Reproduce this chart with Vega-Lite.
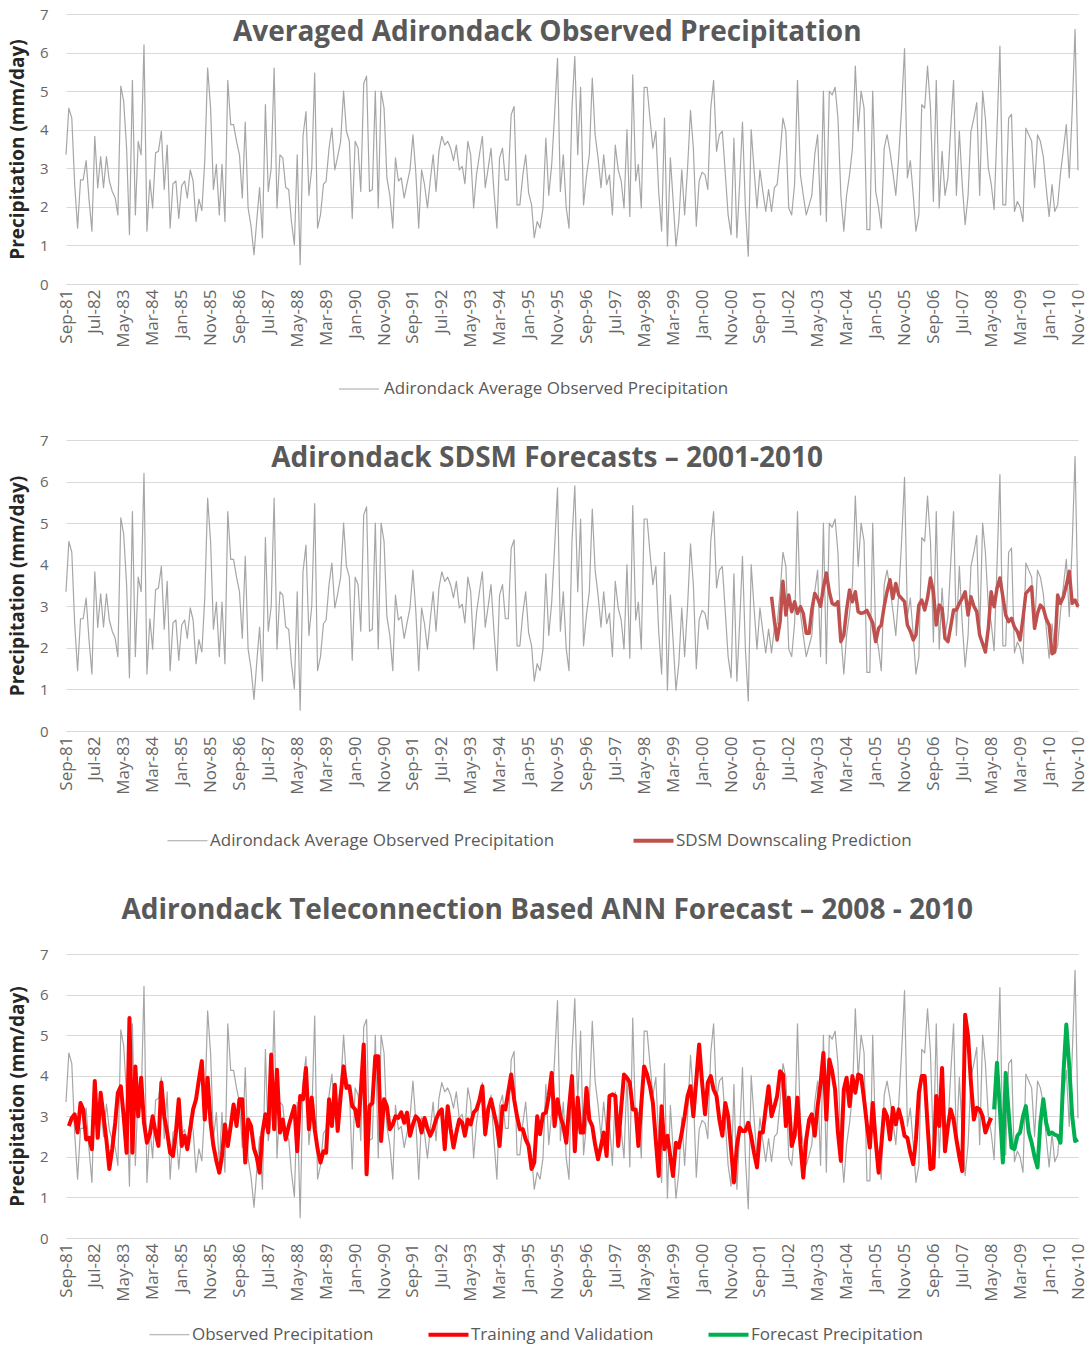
{
"$schema":"https://vega.github.io/schema/vega-lite/v6.json",
"background":"white",
"padding":{"left":8,"top":7,"right":4,"bottom":6},
"spacing":36,
"config":{
 "font":"Open Sans",
 "view":{"stroke":null},
 "axis":{"labelFont":"Open Sans","labelColor":"#666666","labelFontSize":15,"titleFont":"Open Sans","titleFontSize":19,"titleFontWeight":"bold","titleColor":"#262626","gridColor":"#d9d9d9","domainColor":"#d9d9d9","tickColor":"#d9d9d9"},
 "axisX":{"grid":false,"ticks":false,"labelAngle":-90,"labelPadding":5,"labelFontSize":17},
 "axisY":{"domain":false,"ticks":false,"labelPadding":18,"titlePadding":12},
 "title":{"fontSize":28,"font":"Open Sans","fontWeight":"bold","color":"#595959","anchor":"middle","frame":"bounds"},
 "legend":{"orient":"none","direction":"horizontal","labelFont":"Open Sans","labelFontSize":17,"labelColor":"#595959","symbolType":"stroke","symbolSize":1600,"labelLimit":600}
},
"resolve":{"scale":{"color":"independent"},"legend":{"color":"independent"}},
"datasets":{"p":[
{"d":"1981-09","o":3.35},{"d":"1981-10","o":4.56,"t":2.76},{"d":"1981-11","o":4.3,"t":2.96},{"d":"1981-12","o":2.6,"t":3.05},
{"d":"1982-01","o":1.45,"t":2.6},{"d":"1982-02","o":2.7,"t":3.33},{"d":"1982-03","o":2.7,"t":3.17},{"d":"1982-04","o":3.2,"t":2.43},{"d":"1982-05","o":2.2,"t":2.47},{"d":"1982-06","o":1.37,"t":2.19},{"d":"1982-07","o":3.83,"t":3.87},{"d":"1982-08","o":2.49,"t":2.47},{"d":"1982-09","o":3.3,"t":3.58},{"d":"1982-10","o":2.5,"t":3.0},{"d":"1982-11","o":3.3,"t":2.4},{"d":"1982-12","o":2.67,"t":1.7},
{"d":"1983-01","o":2.4,"t":2.2},{"d":"1983-02","o":2.23,"t":2.84},{"d":"1983-03","o":1.79,"t":3.58},{"d":"1983-04","o":5.13,"t":3.74},{"d":"1983-05","o":4.74,"t":3.0},{"d":"1983-06","o":3.52,"t":2.1},{"d":"1983-07","o":1.28,"t":5.42},{"d":"1983-08","o":5.28,"t":2.1},{"d":"1983-09","o":1.79,"t":4.23},{"d":"1983-10","o":3.7,"t":3.0},{"d":"1983-11","o":3.35,"t":3.95},{"d":"1983-12","o":6.2,"t":2.84},
{"d":"1984-01","o":1.37,"t":2.35},{"d":"1984-02","o":2.7,"t":2.56},{"d":"1984-03","o":1.97,"t":3.0},{"d":"1984-04","o":3.4,"t":2.6},{"d":"1984-05","o":3.44,"t":2.27},{"d":"1984-06","o":3.96,"t":3.83},{"d":"1984-07","o":2.45,"t":3.0},{"d":"1984-08","o":3.6,"t":2.6},{"d":"1984-09","o":1.45,"t":2.1},{"d":"1984-10","o":2.6,"t":2.02},{"d":"1984-11","o":2.67,"t":2.6},{"d":"1984-12","o":1.7,"t":3.42},
{"d":"1985-01","o":2.55,"t":2.27},{"d":"1985-02","o":2.67,"t":2.52},{"d":"1985-03","o":2.23,"t":2.19},{"d":"1985-04","o":2.96,"t":2.7},{"d":"1985-05","o":2.67,"t":3.17},{"d":"1985-06","o":1.62,"t":3.42},{"d":"1985-07","o":2.2,"t":3.9},{"d":"1985-08","o":1.9,"t":4.36},{"d":"1985-09","o":3.2,"t":2.92},{"d":"1985-10","o":5.6,"t":3.95},{"d":"1985-11","o":4.56,"t":2.84},{"d":"1985-12","o":2.45,"t":2.27},
{"d":"1986-01","o":3.1,"t":1.9},{"d":"1986-02","o":1.79,"t":1.61},{"d":"1986-03","o":3.1,"t":2.02},{"d":"1986-04","o":1.62,"t":2.8},{"d":"1986-05","o":5.28,"t":2.27},{"d":"1986-06","o":4.13,"t":2.76},{"d":"1986-07","o":4.13,"t":3.29},{"d":"1986-08","o":3.7,"t":2.76},{"d":"1986-09","o":3.35,"t":3.42},{"d":"1986-10","o":2.23,"t":3.42},{"d":"1986-11","o":4.2,"t":1.86},{"d":"1986-12","o":1.97,"t":2.92},
{"d":"1987-01","o":1.5,"t":2.76},{"d":"1987-02","o":0.76,"t":2.2},{"d":"1987-03","o":1.62,"t":2.0},{"d":"1987-04","o":2.5,"t":1.61},{"d":"1987-05","o":1.2,"t":2.6},{"d":"1987-06","o":4.65,"t":3.05},{"d":"1987-07","o":2.4,"t":2.6},{"d":"1987-08","o":3.0,"t":4.52},{"d":"1987-09","o":5.6,"t":2.68},{"d":"1987-10","o":1.97,"t":4.15},{"d":"1987-11","o":3.35,"t":2.6},{"d":"1987-12","o":3.27,"t":2.92},
{"d":"1988-01","o":2.5,"t":2.43},{"d":"1988-02","o":2.45,"t":2.76},{"d":"1988-03","o":1.62,"t":3.0},{"d":"1988-04","o":1.02,"t":3.25},{"d":"1988-05","o":3.35,"t":2.14},{"d":"1988-06","o":0.5,"t":3.5},{"d":"1988-07","o":3.83,"t":3.42},{"d":"1988-08","o":4.47,"t":4.19},{"d":"1988-09","o":2.3,"t":2.68},{"d":"1988-10","o":3.0,"t":3.46},{"d":"1988-11","o":5.47,"t":2.68},{"d":"1988-12","o":1.45,"t":2.2},
{"d":"1989-01","o":1.79,"t":1.86},{"d":"1989-02","o":2.58,"t":2.14},{"d":"1989-03","o":2.67,"t":2.1},{"d":"1989-04","o":3.52,"t":3.42},{"d":"1989-05","o":4.04,"t":2.76},{"d":"1989-06","o":2.96,"t":3.78},{"d":"1989-07","o":3.3,"t":2.64},{"d":"1989-08","o":3.7,"t":3.5},{"d":"1989-09","o":5.0,"t":4.23},{"d":"1989-10","o":3.96,"t":3.7},{"d":"1989-11","o":3.7,"t":3.74},{"d":"1989-12","o":1.7,"t":3.25},
{"d":"1990-01","o":3.7,"t":3.17},{"d":"1990-02","o":3.52,"t":2.76},{"d":"1990-03","o":2.4,"t":3.6},{"d":"1990-04","o":5.2,"t":4.77},{"d":"1990-05","o":5.39,"t":1.57},{"d":"1990-06","o":2.4,"t":3.25},{"d":"1990-07","o":2.45,"t":3.33},{"d":"1990-08","o":5.0,"t":4.48},{"d":"1990-09","o":1.97,"t":4.48},{"d":"1990-10","o":5.0,"t":2.39},{"d":"1990-11","o":4.56,"t":3.42},{"d":"1990-12","o":2.75,"t":3.25},
{"d":"1991-01","o":2.3,"t":2.68},{"d":"1991-02","o":1.45,"t":2.8},{"d":"1991-03","o":3.27,"t":3.0},{"d":"1991-04","o":2.67,"t":2.96},{"d":"1991-05","o":2.75,"t":3.1},{"d":"1991-06","o":2.23,"t":2.84},{"d":"1991-07","o":2.6,"t":3.09},{"d":"1991-08","o":2.96,"t":2.52},{"d":"1991-09","o":3.87,"t":2.8},{"d":"1991-10","o":2.9,"t":3.0},{"d":"1991-11","o":1.45,"t":2.92},{"d":"1991-12","o":2.96,"t":2.6},
{"d":"1992-01","o":2.58,"t":2.96},{"d":"1992-02","o":1.97,"t":2.7},{"d":"1992-03","o":2.67,"t":2.52},{"d":"1992-04","o":3.35,"t":2.68},{"d":"1992-05","o":2.4,"t":2.92},{"d":"1992-06","o":3.44,"t":3.09},{"d":"1992-07","o":3.83,"t":3.17},{"d":"1992-08","o":3.6,"t":2.19},{"d":"1992-09","o":3.7,"t":3.25},{"d":"1992-10","o":3.52,"t":2.7},{"d":"1992-11","o":3.2,"t":2.23},{"d":"1992-12","o":3.6,"t":2.6},
{"d":"1993-01","o":2.96,"t":2.92},{"d":"1993-02","o":3.05,"t":2.84},{"d":"1993-03","o":2.6,"t":2.52},{"d":"1993-04","o":3.7,"t":2.92},{"d":"1993-05","o":3.35,"t":2.8},{"d":"1993-06","o":1.97,"t":3.09},{"d":"1993-07","o":2.83,"t":3.17},{"d":"1993-08","o":3.35,"t":3.4},{"d":"1993-09","o":3.83,"t":3.74},{"d":"1993-10","o":2.5,"t":2.56},{"d":"1993-11","o":3.0,"t":3.17},{"d":"1993-12","o":3.52,"t":3.42},
{"d":"1994-01","o":2.4,"t":3.09},{"d":"1994-02","o":1.45,"t":2.76},{"d":"1994-03","o":3.27,"t":2.27},{"d":"1994-04","o":3.52,"t":3.25},{"d":"1994-05","o":2.7,"t":3.17},{"d":"1994-06","o":2.7,"t":3.6},{"d":"1994-07","o":4.39,"t":4.03},{"d":"1994-08","o":4.6,"t":3.42},{"d":"1994-09","o":2.05,"t":3.0},{"d":"1994-10","o":2.05,"t":2.68},{"d":"1994-11","o":2.83,"t":2.68},{"d":"1994-12","o":3.35,"t":2.43},
{"d":"1995-01","o":2.36,"t":2.27},{"d":"1995-02","o":2.05,"t":1.7},{"d":"1995-03","o":1.2,"t":1.86},{"d":"1995-04","o":1.62,"t":3.0},{"d":"1995-05","o":1.45,"t":2.56},{"d":"1995-06","o":1.97,"t":3.05},{"d":"1995-07","o":3.78,"t":3.09},{"d":"1995-08","o":2.3,"t":3.5},{"d":"1995-09","o":3.1,"t":4.07},{"d":"1995-10","o":4.39,"t":2.76},{"d":"1995-11","o":5.85,"t":3.42},{"d":"1995-12","o":2.4,"t":3.0},
{"d":"1996-01","o":3.35,"t":2.76},{"d":"1996-02","o":1.97,"t":2.35},{"d":"1996-03","o":1.45,"t":3.2},{"d":"1996-04","o":4.56,"t":3.99},{"d":"1996-05","o":5.9,"t":2.14},{"d":"1996-06","o":3.35,"t":3.46},{"d":"1996-07","o":5.1,"t":2.6},{"d":"1996-08","o":2.05,"t":2.6},{"d":"1996-09","o":2.8,"t":3.7},{"d":"1996-10","o":3.35,"t":2.92},{"d":"1996-11","o":5.34,"t":2.76},{"d":"1996-12","o":3.87,"t":2.3},
{"d":"1997-01","o":3.27,"t":1.94},{"d":"1997-02","o":2.5,"t":2.27},{"d":"1997-03","o":3.35,"t":2.6},{"d":"1997-04","o":2.58,"t":2.02},{"d":"1997-05","o":2.83,"t":3.5},{"d":"1997-06","o":1.79,"t":3.54},{"d":"1997-07","o":3.6,"t":3.5},{"d":"1997-08","o":2.96,"t":2.27},{"d":"1997-09","o":2.67,"t":3.2},{"d":"1997-10","o":1.97,"t":4.03},{"d":"1997-11","o":4.0,"t":3.95},{"d":"1997-12","o":1.75,"t":3.83},
{"d":"1998-01","o":5.42,"t":3.17},{"d":"1998-02","o":2.67,"t":3.17},{"d":"1998-03","o":3.1,"t":2.27},{"d":"1998-04","o":1.97,"t":3.3},{"d":"1998-05","o":5.1,"t":4.23},{"d":"1998-06","o":5.1,"t":4.03},{"d":"1998-07","o":4.3,"t":3.74},{"d":"1998-08","o":3.52,"t":3.33},{"d":"1998-09","o":3.96,"t":2.4},{"d":"1998-10","o":2.4,"t":1.53},{"d":"1998-11","o":1.37,"t":3.25},{"d":"1998-12","o":4.3,"t":2.19},
{"d":"1999-01","o":0.98,"t":2.52},{"d":"1999-02","o":3.27,"t":2.0},{"d":"1999-03","o":2.2,"t":1.53},{"d":"1999-04","o":0.98,"t":2.35},{"d":"1999-05","o":1.62,"t":2.23},{"d":"1999-06","o":2.96,"t":2.6},{"d":"1999-07","o":1.79,"t":3.0},{"d":"1999-08","o":3.0,"t":3.5},{"d":"1999-09","o":4.5,"t":3.74},{"d":"1999-10","o":3.52,"t":3.0},{"d":"1999-11","o":1.5,"t":3.9},{"d":"1999-12","o":2.67,"t":4.77},
{"d":"2000-01","o":2.9,"t":3.83},{"d":"2000-02","o":2.83,"t":3.05},{"d":"2000-03","o":2.45,"t":3.83},{"d":"2000-04","o":4.56,"t":3.99},{"d":"2000-05","o":5.28,"t":3.66},{"d":"2000-06","o":3.44,"t":3.5},{"d":"2000-07","o":3.87,"t":2.92},{"d":"2000-08","o":3.96,"t":2.52},{"d":"2000-09","o":2.87,"t":3.33},{"d":"2000-10","o":1.79,"t":3.0},{"d":"2000-11","o":1.28,"t":2.2},{"d":"2000-12","o":3.78,"t":1.37},
{"d":"2001-01","o":1.2,"t":2.27},{"d":"2001-02","o":2.67,"t":2.72},{"d":"2001-03","o":4.2,"t":2.64},{"d":"2001-04","o":1.97,"t":2.64},{"d":"2001-05","o":0.72,"t":2.84},{"d":"2001-06","o":4.0,"t":2.5},{"d":"2001-07","o":2.96,"t":2.1},{"d":"2001-08","o":1.97,"t":1.74},{"d":"2001-09","o":2.96,"t":2.6},{"d":"2001-10","o":2.4,"t":2.6},{"d":"2001-11","o":1.88,"t":3.2},{"d":"2001-12","o":2.45,"t":3.74},
{"d":"2002-01","o":1.88,"s":3.23,"t":3.0},{"d":"2002-02","o":2.5,"s":2.63,"t":3.25},{"d":"2002-03","o":2.58,"s":2.19,"t":3.5},{"d":"2002-04","o":3.35,"s":2.63,"t":4.11},{"d":"2002-05","o":4.3,"s":3.6,"t":4.03},{"d":"2002-06","o":3.96,"s":2.79,"t":2.76},{"d":"2002-07","o":1.97,"s":3.27,"t":3.46},{"d":"2002-08","o":1.79,"s":2.87,"t":2.27},{"d":"2002-09","o":2.6,"s":3.11,"t":2.52},{"d":"2002-10","o":5.28,"s":2.83,"t":3.46},{"d":"2002-11","o":2.83,"s":2.99,"t":2.3},{"d":"2002-12","o":2.3,"s":2.83,"t":1.49},
{"d":"2003-01","o":1.79,"s":2.35,"t":2.43},{"d":"2003-02","o":2.05,"s":2.35,"t":2.92},{"d":"2003-03","o":2.3,"s":2.91,"t":3.05},{"d":"2003-04","o":3.35,"s":3.31,"t":2.52},{"d":"2003-05","o":3.87,"s":3.19,"t":3.25},{"d":"2003-06","o":1.79,"s":3.0,"t":3.8},{"d":"2003-07","o":5.0,"s":3.45,"t":4.56},{"d":"2003-08","o":1.62,"s":3.8,"t":2.92},{"d":"2003-09","o":5.0,"s":3.35,"t":4.4},{"d":"2003-10","o":4.9,"s":3.07,"t":4.11},{"d":"2003-11","o":5.1,"s":3.03,"t":3.66},{"d":"2003-12","o":4.3,"s":3.11,"t":2.6},
{"d":"2004-01","o":2.3,"s":2.15,"t":1.9},{"d":"2004-02","o":1.37,"s":2.31,"t":3.66},{"d":"2004-03","o":2.3,"s":2.91,"t":3.95},{"d":"2004-04","o":2.83,"s":3.39,"t":3.25},{"d":"2004-05","o":3.5,"s":3.11,"t":3.99},{"d":"2004-06","o":5.65,"s":3.35,"t":3.58},{"d":"2004-07","o":3.96,"s":2.87,"t":4.03},{"d":"2004-08","o":5.0,"s":2.83,"t":3.99},{"d":"2004-09","o":4.56,"s":2.85,"t":3.42},{"d":"2004-10","o":1.41,"s":2.9,"t":2.8},{"d":"2004-11","o":1.41,"s":2.75,"t":2.23},{"d":"2004-12","o":5.0,"s":2.6,"t":3.33},
{"d":"2005-01","o":2.4,"s":2.15,"t":2.4},{"d":"2005-02","o":1.97,"s":2.47,"t":1.61},{"d":"2005-03","o":1.45,"s":2.55,"t":2.27},{"d":"2005-04","o":3.52,"s":3.0,"t":3.17},{"d":"2005-05","o":3.87,"s":3.35,"t":3.0},{"d":"2005-06","o":3.44,"s":3.64,"t":2.43},{"d":"2005-07","o":2.9,"s":3.19,"t":3.21},{"d":"2005-08","o":2.3,"s":3.55,"t":2.8},{"d":"2005-09","o":3.3,"s":3.27,"t":3.17},{"d":"2005-10","o":4.56,"s":3.19,"t":2.9},{"d":"2005-11","o":6.1,"s":3.11,"t":2.52},{"d":"2005-12","o":2.75,"s":2.55,"t":2.47},
{"d":"2006-01","o":3.2,"s":2.4,"t":2.1},{"d":"2006-02","o":2.3,"s":2.19,"t":1.82},{"d":"2006-03","o":1.37,"s":2.31,"t":2.43},{"d":"2006-04","o":1.79,"s":3.03,"t":3.58},{"d":"2006-05","o":4.65,"s":3.15,"t":3.99},{"d":"2006-06","o":4.56,"s":2.91,"t":3.99},{"d":"2006-07","o":5.65,"s":3.2,"t":2.8},{"d":"2006-08","o":4.56,"s":3.68,"t":1.7},{"d":"2006-09","o":2.14,"s":3.35,"t":1.74},{"d":"2006-10","o":5.28,"s":2.55,"t":3.5},{"d":"2006-11","o":1.97,"s":3.03,"t":2.76},{"d":"2006-12","o":3.44,"s":2.95,"t":4.19},
{"d":"2007-01","o":2.3,"s":2.23,"t":2.14},{"d":"2007-02","o":2.75,"s":2.15,"t":2.76},{"d":"2007-03","o":4.0,"s":2.5,"t":3.17},{"d":"2007-04","o":5.28,"s":2.91,"t":2.92},{"d":"2007-05","o":2.3,"s":2.91,"t":2.43},{"d":"2007-06","o":3.96,"s":3.07,"t":2.0},{"d":"2007-07","o":2.6,"s":3.19,"t":1.65},{"d":"2007-08","o":1.54,"s":3.35,"t":5.5},{"d":"2007-09","o":2.3,"s":2.79,"t":4.97},{"d":"2007-10","o":3.96,"s":3.23,"t":3.83},{"d":"2007-11","o":4.3,"s":3.0,"t":2.92},{"d":"2007-12","o":4.7,"s":2.87,"t":3.21},
{"d":"2008-01","o":2.3,"s":2.31,"t":3.17},{"d":"2008-02","o":5.0,"s":2.1,"t":3.0},{"d":"2008-03","o":4.3,"s":1.9,"t":2.6},{"d":"2008-04","o":3.0,"s":2.47,"t":2.8},{"d":"2008-05","o":2.6,"s":3.35,"t":2.96},{"d":"2008-06","o":1.93,"s":2.99,"f":3.17},{"d":"2008-07","o":3.96,"s":3.43,"f":4.32},{"d":"2008-08","o":6.17,"s":3.68,"f":3.17},{"d":"2008-09","o":2.05,"s":3.23,"f":1.86},{"d":"2008-10","o":2.05,"s":2.79,"f":4.07},{"d":"2008-11","o":4.3,"s":2.63,"f":3.09},{"d":"2008-12","o":4.4,"s":2.71,"f":2.23},
{"d":"2009-01","o":1.88,"s":2.5,"f":2.19},{"d":"2009-02","o":2.14,"s":2.39,"f":2.52},{"d":"2009-03","o":2.0,"s":2.19,"f":2.6},{"d":"2009-04","o":1.62,"s":2.71,"f":3.0},{"d":"2009-05","o":4.04,"s":3.31,"f":3.25},{"d":"2009-06","o":3.87,"s":3.39,"f":2.6},{"d":"2009-07","o":3.7,"s":3.47,"f":2.35},{"d":"2009-08","o":2.5,"s":2.47,"f":2.0},{"d":"2009-09","o":3.87,"s":2.83,"f":1.74},{"d":"2009-10","o":3.7,"s":3.03,"f":2.84},{"d":"2009-11","o":3.3,"s":2.95,"f":3.42},{"d":"2009-12","o":2.5,"s":2.7,"f":2.84},
{"d":"2010-01","o":1.75,"s":2.55,"f":2.56},{"d":"2010-02","o":2.58,"s":1.86,"f":2.6},{"d":"2010-03","o":1.88,"s":1.9,"f":2.55},{"d":"2010-04","o":2.05,"s":3.27,"f":2.52},{"d":"2010-05","o":2.87,"s":3.07,"f":2.35},{"d":"2010-06","o":3.5,"s":3.23,"f":4.07},{"d":"2010-07","o":4.13,"s":3.5,"f":5.26},{"d":"2010-08","o":2.75,"s":3.84,"f":4.23},{"d":"2010-09","o":4.5,"s":3.07,"f":3.0},{"d":"2010-10","o":6.6,"s":3.15,"f":2.39},{"d":"2010-11","o":2.95,"s":2.99,"f":2.43}
]},
"vconcat":[
{
 "data":{"name":"p"},
 "width":1012,"height":270,
 "title":{"text":"Averaged  Adirondack  Observed  Precipitation","offset":-40},
 "mark":{"type":"line","strokeWidth":1.2,"strokeJoin":"round"},
 "encoding":{
  "x":{"field":"d","type":"temporal","title":null,"scale":{"type":"utc","nice":false,"domain":[{"year":1981,"month":9,"date":1,"utc":true},{"year":2010,"month":11,"date":1,"utc":true}]},"axis":{"format":"%b-%y","values":[{"year":1981,"month":9,"date":1,"utc":true},{"year":1982,"month":7,"date":1,"utc":true},{"year":1983,"month":5,"date":1,"utc":true},{"year":1984,"month":3,"date":1,"utc":true},{"year":1985,"month":1,"date":1,"utc":true},{"year":1985,"month":11,"date":1,"utc":true},{"year":1986,"month":9,"date":1,"utc":true},{"year":1987,"month":7,"date":1,"utc":true},{"year":1988,"month":5,"date":1,"utc":true},{"year":1989,"month":3,"date":1,"utc":true},{"year":1990,"month":1,"date":1,"utc":true},{"year":1990,"month":11,"date":1,"utc":true},{"year":1991,"month":9,"date":1,"utc":true},{"year":1992,"month":7,"date":1,"utc":true},{"year":1993,"month":5,"date":1,"utc":true},{"year":1994,"month":3,"date":1,"utc":true},{"year":1995,"month":1,"date":1,"utc":true},{"year":1995,"month":11,"date":1,"utc":true},{"year":1996,"month":9,"date":1,"utc":true},{"year":1997,"month":7,"date":1,"utc":true},{"year":1998,"month":5,"date":1,"utc":true},{"year":1999,"month":3,"date":1,"utc":true},{"year":2000,"month":1,"date":1,"utc":true},{"year":2000,"month":11,"date":1,"utc":true},{"year":2001,"month":9,"date":1,"utc":true},{"year":2002,"month":7,"date":1,"utc":true},{"year":2003,"month":5,"date":1,"utc":true},{"year":2004,"month":3,"date":1,"utc":true},{"year":2005,"month":1,"date":1,"utc":true},{"year":2005,"month":11,"date":1,"utc":true},{"year":2006,"month":9,"date":1,"utc":true},{"year":2007,"month":7,"date":1,"utc":true},{"year":2008,"month":5,"date":1,"utc":true},{"year":2009,"month":3,"date":1,"utc":true},{"year":2010,"month":1,"date":1,"utc":true},{"year":2010,"month":11,"date":1,"utc":true}]}},
  "y":{"field":"o","type":"quantitative","title":"Precipitation (mm/day)","scale":{"domain":[0,7],"nice":false},"axis":{"values":[0,1,2,3,4,5,6,7]}},
  "color":{"datum":"Adirondack Average Observed Precipitation","scale":{"domain":["Adirondack Average Observed Precipitation"],"range":["#a6a6a6"]},"legend":{"title":null,"symbolStrokeWidth":1.2,"legendX":272,"legendY":354}}
 }
},
{
 "data":{"name":"p"},
 "width":1012,"height":291,
 "title":{"text":"Adirondack  SDSM  Forecasts – 2001-2010","offset":-40},
 "encoding":{
  "x":{"field":"d","type":"temporal","title":null,"scale":{"type":"utc","nice":false,"domain":[{"year":1981,"month":9,"date":1,"utc":true},{"year":2010,"month":11,"date":1,"utc":true}]},"axis":{"format":"%b-%y","values":[{"year":1981,"month":9,"date":1,"utc":true},{"year":1982,"month":7,"date":1,"utc":true},{"year":1983,"month":5,"date":1,"utc":true},{"year":1984,"month":3,"date":1,"utc":true},{"year":1985,"month":1,"date":1,"utc":true},{"year":1985,"month":11,"date":1,"utc":true},{"year":1986,"month":9,"date":1,"utc":true},{"year":1987,"month":7,"date":1,"utc":true},{"year":1988,"month":5,"date":1,"utc":true},{"year":1989,"month":3,"date":1,"utc":true},{"year":1990,"month":1,"date":1,"utc":true},{"year":1990,"month":11,"date":1,"utc":true},{"year":1991,"month":9,"date":1,"utc":true},{"year":1992,"month":7,"date":1,"utc":true},{"year":1993,"month":5,"date":1,"utc":true},{"year":1994,"month":3,"date":1,"utc":true},{"year":1995,"month":1,"date":1,"utc":true},{"year":1995,"month":11,"date":1,"utc":true},{"year":1996,"month":9,"date":1,"utc":true},{"year":1997,"month":7,"date":1,"utc":true},{"year":1998,"month":5,"date":1,"utc":true},{"year":1999,"month":3,"date":1,"utc":true},{"year":2000,"month":1,"date":1,"utc":true},{"year":2000,"month":11,"date":1,"utc":true},{"year":2001,"month":9,"date":1,"utc":true},{"year":2002,"month":7,"date":1,"utc":true},{"year":2003,"month":5,"date":1,"utc":true},{"year":2004,"month":3,"date":1,"utc":true},{"year":2005,"month":1,"date":1,"utc":true},{"year":2005,"month":11,"date":1,"utc":true},{"year":2006,"month":9,"date":1,"utc":true},{"year":2007,"month":7,"date":1,"utc":true},{"year":2008,"month":5,"date":1,"utc":true},{"year":2009,"month":3,"date":1,"utc":true},{"year":2010,"month":1,"date":1,"utc":true},{"year":2010,"month":11,"date":1,"utc":true}]}}
 },
 "layer":[
  {"mark":{"type":"line","strokeWidth":1.2,"strokeJoin":"round"},
   "encoding":{"y":{"field":"o","type":"quantitative","title":"Precipitation (mm/day)","scale":{"domain":[0,7],"nice":false},"axis":{"values":[0,1,2,3,4,5,6,7]}},
    "color":{"datum":"Adirondack Average Observed Precipitation","scale":{"domain":["Adirondack Average Observed Precipitation","SDSM Downscaling Prediction"],"range":["#a6a6a6","#c0504d"]},"legend":{"title":null,"columnPadding":70,"labelOffset":14,"padding":12,"legendX":101,"legendY":380,"symbolStrokeWidth":{"expr":"datum.value == 'SDSM Downscaling Prediction' ? 4 : 1.2"}}}}},
  {"transform":[{"filter":"datum.s != null"}],
   "mark":{"type":"line","strokeWidth":3.5,"strokeJoin":"round"},
   "encoding":{"y":{"field":"s","type":"quantitative"},"color":{"datum":"SDSM Downscaling Prediction"}}}
 ]
},
{
 "data":{"name":"p"},
 "width":1012,"height":284,
 "title":{"text":"Adirondack  Teleconnection  Based  ANN  Forecast – 2008 - 2010","offset":22},
 "encoding":{
  "x":{"field":"d","type":"temporal","title":null,"scale":{"type":"utc","nice":false,"domain":[{"year":1981,"month":9,"date":1,"utc":true},{"year":2010,"month":11,"date":1,"utc":true}]},"axis":{"format":"%b-%y","values":[{"year":1981,"month":9,"date":1,"utc":true},{"year":1982,"month":7,"date":1,"utc":true},{"year":1983,"month":5,"date":1,"utc":true},{"year":1984,"month":3,"date":1,"utc":true},{"year":1985,"month":1,"date":1,"utc":true},{"year":1985,"month":11,"date":1,"utc":true},{"year":1986,"month":9,"date":1,"utc":true},{"year":1987,"month":7,"date":1,"utc":true},{"year":1988,"month":5,"date":1,"utc":true},{"year":1989,"month":3,"date":1,"utc":true},{"year":1990,"month":1,"date":1,"utc":true},{"year":1990,"month":11,"date":1,"utc":true},{"year":1991,"month":9,"date":1,"utc":true},{"year":1992,"month":7,"date":1,"utc":true},{"year":1993,"month":5,"date":1,"utc":true},{"year":1994,"month":3,"date":1,"utc":true},{"year":1995,"month":1,"date":1,"utc":true},{"year":1995,"month":11,"date":1,"utc":true},{"year":1996,"month":9,"date":1,"utc":true},{"year":1997,"month":7,"date":1,"utc":true},{"year":1998,"month":5,"date":1,"utc":true},{"year":1999,"month":3,"date":1,"utc":true},{"year":2000,"month":1,"date":1,"utc":true},{"year":2000,"month":11,"date":1,"utc":true},{"year":2001,"month":9,"date":1,"utc":true},{"year":2002,"month":7,"date":1,"utc":true},{"year":2003,"month":5,"date":1,"utc":true},{"year":2004,"month":3,"date":1,"utc":true},{"year":2005,"month":1,"date":1,"utc":true},{"year":2005,"month":11,"date":1,"utc":true},{"year":2006,"month":9,"date":1,"utc":true},{"year":2007,"month":7,"date":1,"utc":true},{"year":2008,"month":5,"date":1,"utc":true},{"year":2009,"month":3,"date":1,"utc":true},{"year":2010,"month":1,"date":1,"utc":true},{"year":2010,"month":11,"date":1,"utc":true}]}}
 },
 "layer":[
  {"mark":{"type":"line","strokeWidth":1.2,"strokeJoin":"round"},
   "encoding":{"y":{"field":"o","type":"quantitative","title":"Precipitation (mm/day)","scale":{"domain":[0,7],"nice":false},"axis":{"values":[0,1,2,3,4,5,6,7]}},
    "color":{"datum":"Observed Precipitation","scale":{"domain":["Observed Precipitation","Training and Validation","Forecast Precipitation"],"range":["#a6a6a6","#ff0000","#00b050"]},"legend":{"title":null,"columnPadding":46,"labelOffset":14,"legendX":95,"legendY":372,"symbolStrokeWidth":{"expr":"datum.value == 'Observed Precipitation' ? 1.2 : 4"}}}}},
  {"transform":[{"filter":"datum.t != null"}],
   "mark":{"type":"line","strokeWidth":4,"strokeJoin":"round"},
   "encoding":{"y":{"field":"t","type":"quantitative"},"color":{"datum":"Training and Validation"}}},
  {"transform":[{"filter":"datum.f != null"}],
   "mark":{"type":"line","strokeWidth":4,"strokeJoin":"round"},
   "encoding":{"y":{"field":"f","type":"quantitative"},"color":{"datum":"Forecast Precipitation"}}}
 ]
}
]
}
